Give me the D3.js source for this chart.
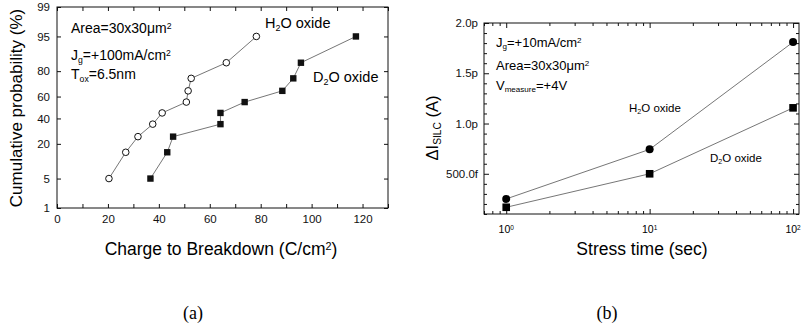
<!DOCTYPE html>
<meta charset="utf-8">
<title>Qbd and SILC, H2O vs D2O oxide</title>
<style>
body { margin: 0; background: #fff; }
svg { font-family: "Liberation Sans", Arial, sans-serif; }
.frame { fill: none; stroke: #111; stroke-width: 1; }
.axis path { display: none; }
.axis line { stroke: #111; }
.link { fill: none; stroke: #666; stroke-width: 0.9; }
.caption { font-family: "Liberation Serif", "DejaVu Serif", serif; font-size: 18px; }
</style>
<body>
<svg id="fig" width="802" height="330"></svg>

<script src="https://cdn.jsdelivr.net/npm/d3@7"></script>
<script>

// (a) charge to breakdown, cumulative probability (%)
var h2oProb = [5, 15, 25, 35, 45, 55, 65, 75, 85, 95];
var h2oQbd  = [20.4, 27.0, 31.8, 37.6, 41.3, 50.8, 51.5, 52.7, 66.5, 78.3];
var d2oProb = [5, 15, 25, 35, 45, 55, 65, 75, 85, 95];
var d2oQbd  = [36.7, 43.3, 45.6, 64.2, 64.2, 73.7, 88.5, 92.8, 95.8, 117.4];
var probTicks = [1, 5, 20, 40, 60, 80, 95, 99];
var qbdTicks  = [0, 20, 40, 60, 80, 100, 120];
var qbdMinor  = [10, 30, 50, 70, 90, 110, 130];

// (b) SILC vs stress time, values in pA
var stressTime = [1, 10, 100];
var h2oSilc = [0.25, 0.743, 1.81];
var d2oSilc = [0.167, 0.5, 1.156];
var silcTicks = [0.5, 1.0, 1.5, 2.0];
var silcTickLabels = ["500.0f", "1.0p", "1.5p", "2.0p"];
var timeDecades = [1, 10, 100];
var timeDecadeExp = ["0", "1", "2"];

// inverse normal cdf (Acklam), used for the probability axis
function probit(p) {
  var a = [-3.969683028665376e+01, 2.209460984245205e+02, -2.759285104469687e+02, 1.383577518672690e+02, -3.066479806614716e+01, 2.506628277459239e+00],
      b = [-5.447609879822406e+01, 1.615858368580409e+02, -1.556989798598866e+02, 6.680131188771972e+01, -1.328068155288572e+01],
      c = [-7.784894002430293e-03, -3.223964580411365e-01, -2.400758277161838e+00, -2.549732539343734e+00, 4.374664141464968e+00, 2.938163982698783e+00],
      d = [7.784695709041462e-03, 3.224671290700398e-01, 2.445134137142996e+00, 3.754408661907416e+00];
  var q, r;
  if (p < 0.02425) {
    q = Math.sqrt(-2 * Math.log(p));
    return (((((c[0]*q+c[1])*q+c[2])*q+c[3])*q+c[4])*q+c[5]) / ((((d[0]*q+d[1])*q+d[2])*q+d[3])*q+1);
  }
  if (p <= 1 - 0.02425) {
    q = p - 0.5; r = q * q;
    return (((((a[0]*r+a[1])*r+a[2])*r+a[3])*r+a[4])*r+a[5])*q / (((((b[0]*r+b[1])*r+b[2])*r+b[3])*r+b[4])*r+1);
  }
  q = Math.sqrt(-2 * Math.log(1 - p));
  return -(((((c[0]*q+c[1])*q+c[2])*q+c[3])*q+c[4])*q+c[5]) / ((((d[0]*q+d[1])*q+d[2])*q+d[3])*q+1);
}

// text with sub/superscripts: parts = [[text, "sub"|"sup"|null], ...]
function richText(sel, parts, size) {
  parts.forEach(function(p) {
    var t = sel.append("tspan").text(p[0]);
    if (p[1] == "sub") t.attr("font-size", size * 0.62).attr("baseline-shift", "-30%");
    else if (p[1] == "sup") t.attr("font-size", size * 0.62).attr("baseline-shift", "45%");
    else t.attr("font-size", size);
  });
  return sel;
}

var svg = d3.select("#fig");

// ---------- panel (a) ----------
var xL = d3.scaleLinear().domain([0, 130]).range([57, 388]);
var yL = d3.scaleLinear().domain([probit(0.01), probit(0.99)]).range([208, 7]);
var pa = svg.append("g");

pa.append("g").attr("class", "axis").attr("transform", "translate(0,208)")
  .call(d3.axisBottom(xL).tickValues(qbdTicks).tickSize(-4).tickPadding(7))
  .call(function(g) { g.selectAll("text").attr("font-size", 11.5).attr("fill", "#111"); });
pa.append("g").attr("class", "axis").attr("transform", "translate(0,208)")
  .call(d3.axisBottom(xL).tickValues(qbdMinor).tickSize(-4).tickFormat(""));
pa.append("g").attr("class", "axis").attr("transform", "translate(0,7)")
  .call(d3.axisTop(xL).tickValues(qbdTicks.concat(qbdMinor)).tickSize(-4).tickFormat(""));
pa.append("g").attr("class", "axis").attr("transform", "translate(57,0)")
  .call(d3.axisLeft(yL).tickValues(probTicks.map(function(p) { return probit(p / 100); }))
    .tickSize(-4).tickPadding(7)
    .tickFormat(function(d, i) { return probTicks[i]; }))
  .call(function(g) { g.selectAll("text").attr("font-size", 11.5).attr("fill", "#111"); });
pa.append("g").attr("class", "axis").attr("transform", "translate(388,0)")
  .call(d3.axisRight(yL).tickValues(probTicks.map(function(p) { return probit(p / 100); }))
    .tickSize(-4).tickFormat(""));
pa.append("rect").attr("class", "frame")
  .attr("x", 57).attr("y", 7).attr("width", 331).attr("height", 201);

var lineL = d3.line().x(function(d) { return xL(d[0]); }).y(function(d) { return yL(probit(d[1] / 100)); });
var h2oPts = h2oQbd.map(function(v, i) { return [v, h2oProb[i]]; });
var d2oPts = d2oQbd.map(function(v, i) { return [v, d2oProb[i]]; });

pa.append("path").attr("class", "link").attr("d", lineL(h2oPts));
pa.append("path").attr("class", "link").attr("d", lineL(d2oPts));
pa.selectAll("circle.h2o").data(h2oPts).enter().append("circle")
  .attr("cx", function(d) { return xL(d[0]); })
  .attr("cy", function(d) { return yL(probit(d[1] / 100)); })
  .attr("r", 3.3).attr("fill", "#fff").attr("stroke", "#111").attr("stroke-width", 1);
pa.selectAll("rect.d2o").data(d2oPts).enter().append("rect")
  .attr("x", function(d) { return xL(d[0]) - 3.2; })
  .attr("y", function(d) { return yL(probit(d[1] / 100)) - 3.2; })
  .attr("width", 6.4).attr("height", 6.4).attr("fill", "#111");

richText(pa.append("text").attr("x", 71).attr("y", 33), [["Area=30x30μm", null], ["2", "sup"]], 14);
richText(pa.append("text").attr("x", 71).attr("y", 60), [["J", null], ["g", "sub"], ["=+100mA/cm", null], ["2", "sup"]], 14);
richText(pa.append("text").attr("x", 71).attr("y", 79), [["T", null], ["ox", "sub"], ["=6.5nm", null]], 14);
richText(pa.append("text").attr("x", 265).attr("y", 28), [["H", null], ["2", "sub"], ["O oxide", null]], 14.5);
richText(pa.append("text").attr("x", 313).attr("y", 82), [["D", null], ["2", "sub"], ["O oxide", null]], 14.5);

pa.append("text").attr("transform", "translate(22,108) rotate(-90)")
  .attr("text-anchor", "middle").attr("font-size", 17).text("Cumulative probability (%)");
richText(pa.append("text").attr("x", 221).attr("y", 255).attr("text-anchor", "middle"),
  [["Charge to Breakdown (C/cm", null], ["2", "sup"], [")", null]], 17.5);

// ---------- panel (b) ----------
var xR = d3.scaleLog().domain([0.7, 110]).range([484, 799]);
var yR = d3.scaleLinear().domain([0.1, 2.0]).range([214, 23]);
var pb = svg.append("g");

var timeMinor = [0.7, 0.8, 0.9, 2, 3, 4, 5, 6, 7, 8, 9, 20, 30, 40, 50, 60, 70, 80, 90];
var silcMinor = d3.range(1, 20).map(function(i) { return i / 10; })
  .filter(function(v) { return silcTicks.indexOf(v) < 0; });

pb.append("g").attr("class", "axis").attr("transform", "translate(0,214)")
  .call(d3.axisBottom(xR).tickValues(timeDecades).tickSize(-5).tickFormat(""));
pb.append("g").attr("class", "axis").attr("transform", "translate(0,214)")
  .call(d3.axisBottom(xR).tickValues(timeMinor).tickSize(-3).tickFormat(""));
pb.append("g").attr("class", "axis").attr("transform", "translate(0,23)")
  .call(d3.axisTop(xR).tickValues(timeDecades).tickSize(-5).tickFormat(""));
pb.append("g").attr("class", "axis").attr("transform", "translate(0,23)")
  .call(d3.axisTop(xR).tickValues(timeMinor).tickSize(-3).tickFormat(""));
pb.append("g").attr("class", "axis").attr("transform", "translate(484,0)")
  .call(d3.axisLeft(yR).tickValues(silcTicks).tickSize(-5).tickPadding(6)
    .tickFormat(function(d, i) { return silcTickLabels[i]; }))
  .call(function(g) { g.selectAll("text").attr("font-size", 11.5).attr("fill", "#111"); });
pb.append("g").attr("class", "axis").attr("transform", "translate(484,0)")
  .call(d3.axisLeft(yR).tickValues(silcMinor).tickSize(-3).tickFormat(""));
pb.append("g").attr("class", "axis").attr("transform", "translate(799,0)")
  .call(d3.axisRight(yR).tickValues(silcTicks).tickSize(-5).tickFormat(""));
pb.append("g").attr("class", "axis").attr("transform", "translate(799,0)")
  .call(d3.axisRight(yR).tickValues(silcMinor).tickSize(-3).tickFormat(""));
pb.append("rect").attr("class", "frame")
  .attr("x", 484).attr("y", 23).attr("width", 315).attr("height", 191);

timeDecades.forEach(function(t, i) {
  richText(pb.append("text").attr("x", xR(t)).attr("y", 233).attr("text-anchor", "middle"),
    [["10", null], [timeDecadeExp[i], "sup"]], 10.5);
});

var lineR = d3.line().x(function(d) { return xR(d[0]); }).y(function(d) { return yR(d[1]); });
var h2oR = stressTime.map(function(t, i) { return [t, h2oSilc[i]]; });
var d2oR = stressTime.map(function(t, i) { return [t, d2oSilc[i]]; });
pb.append("path").attr("class", "link").attr("d", lineR(h2oR));
pb.append("path").attr("class", "link").attr("d", lineR(d2oR));
pb.selectAll("circle.h2o").data(h2oR).enter().append("circle")
  .attr("cx", function(d) { return xR(d[0]); })
  .attr("cy", function(d) { return yR(d[1]); })
  .attr("r", 4).attr("fill", "#000");
pb.selectAll("rect.d2o").data(d2oR).enter().append("rect")
  .attr("x", function(d) { return xR(d[0]) - 3.8; })
  .attr("y", function(d) { return yR(d[1]) - 3.8; })
  .attr("width", 7.6).attr("height", 7.6).attr("fill", "#000");

richText(pb.append("text").attr("x", 496).attr("y", 47), [["J", null], ["g", "sub"], ["=+10mA/cm", null], ["2", "sup"]], 13);
richText(pb.append("text").attr("x", 496).attr("y", 70), [["Area=30x30μm", null], ["2", "sup"]], 13);
richText(pb.append("text").attr("x", 496).attr("y", 90), [["V", null], ["measure", "sub"], ["=+4V", null]], 13);
richText(pb.append("text").attr("x", 629).attr("y", 112), [["H", null], ["2", "sub"], ["O oxide", null]], 11.5);
richText(pb.append("text").attr("x", 710).attr("y", 162), [["D", null], ["2", "sub"], ["O oxide", null]], 11.5);

richText(pb.append("text").attr("transform", "translate(438,128) rotate(-90)").attr("text-anchor", "middle"),
  [["ΔI", null], ["SILC", "sub"], [" (A)", null]], 16.5);
pb.append("text").attr("x", 642).attr("y", 255).attr("text-anchor", "middle")
  .attr("font-size", 17.5).text("Stress time (sec)");

// captions
svg.append("text").attr("class", "caption").attr("x", 193).attr("y", 319)
  .attr("text-anchor", "middle").text("(a)");
svg.append("text").attr("class", "caption").attr("x", 607).attr("y", 319)
  .attr("text-anchor", "middle").text("(b)");
</script>
</body>
